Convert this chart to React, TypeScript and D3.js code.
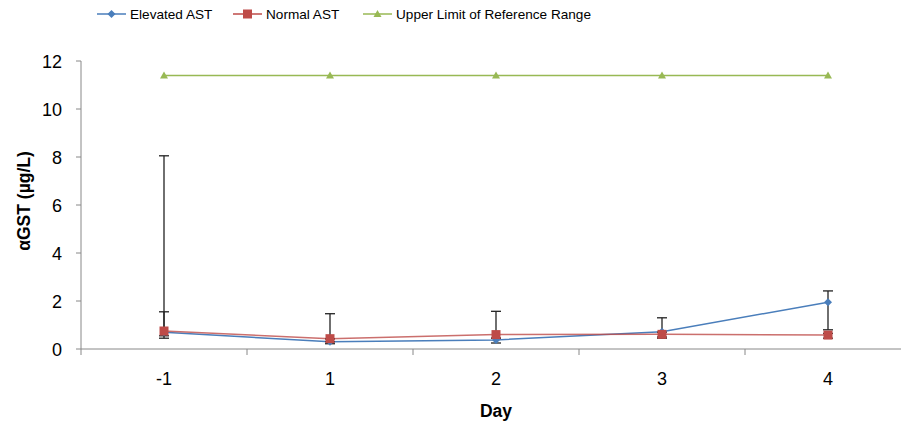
import React from "react";
import * as d3 from "d3";

const categories = ["-1", "1", "2", "3", "4"];
const elevated = [0.7, 0.3, 0.38, 0.72, 1.95];
const elevatedHi = [8.05, 0.42, 0.45, 1.3, 2.42];
const elevatedLo = [0.45, 0.22, 0.25, 0.5, 0.8];
const normal = [0.75, 0.43, 0.6, 0.61, 0.58];
const normalHi = [1.55, 1.47, 1.57, 0.7, 0.65];
const normalLo = [0.55, 0.3, 0.45, 0.45, 0.45];
const upperLimit = [11.4, 11.4, 11.4, 11.4, 11.4];
const yTicks = [0, 2, 4, 6, 8, 10, 12];

const W = 901, H = 423;
const left = 81, right = 911, top = 61, bottom = 349;
const FONT = "'Liberation Sans', Arial, sans-serif";

export default function App() {
  const x = d3.scaleBand<string>().domain(categories).range([left, right]);
  const cx = (i: number) => (x(categories[i]) as number) + x.bandwidth() / 2;
  const y = d3.scaleLinear().domain([0, 12]).range([bottom, top]);
  const line = d3.line<number>().x((_, i) => cx(i)).y((d) => y(d));
  const blue = "#4a7ebb", red = "#be4b48", green = "#98b954";
  const errColor = "#222";

  const errBars = (hi: number[], lo: number[], key: string) =>
    hi.map((h, i) => (
      <g key={key + i} stroke={errColor} strokeWidth={1.3}>
        <line x1={cx(i)} x2={cx(i)} y1={y(h)} y2={y(lo[i])} />
        <line x1={cx(i) - 5} x2={cx(i) + 5} y1={y(h)} y2={y(h)} />
        <line x1={cx(i) - 5} x2={cx(i) + 5} y1={y(lo[i])} y2={y(lo[i])} />
      </g>
    ));

  const diamond = (px: number, py: number, k: string, c: string) => (
    <path key={k} d={`M${px},${py - 4}L${px + 4},${py}L${px},${py + 4}L${px - 4},${py}Z`} fill={c} />
  );
  const square = (px: number, py: number, k: string, c: string) => (
    <rect key={k} x={px - 4.5} y={py - 4.5} width={9} height={9} fill={c} />
  );
  const tri = (px: number, py: number, k: string, c: string) => (
    <path key={k} d={`M${px},${py - 4}L${px + 4},${py + 3}L${px - 4},${py + 3}Z`} fill={c} />
  );

  const legend = [
    { label: "Elevated AST", color: blue, x0: 97, mk: diamond },
    { label: "Normal AST", color: red, x0: 233, mk: square },
    { label: "Upper Limit of Reference Range", color: green, x0: 363, mk: tri },
  ];

  return (
    <svg width={W} height={H} style={{ position: "absolute", left: 0, top: 0, background: "#fff" }}>
      {/* legend */}
      {legend.map((l, i) => (
        <g key={"lg" + i}>
          <line x1={l.x0} x2={l.x0 + 29} y1={14} y2={14} stroke={l.color} strokeWidth={1.5} />
          {l.mk(l.x0 + 14.5, 14, "lm" + i, l.color)}
          <text x={l.x0 + 33} y={19} fontFamily={FONT} fontSize={13.6} fill="#000">{l.label}</text>
        </g>
      ))}
      {/* axes */}
      <line x1={left} x2={left} y1={top} y2={bottom} stroke="#888" />
      <line x1={left} x2={W} y1={bottom} y2={bottom} stroke="#888" />
      {yTicks.map((t) => (
        <g key={"yt" + t}>
          <line x1={left - 5} x2={left} y1={y(t)} y2={y(t)} stroke="#888" />
          <text x={left - 19} y={y(t) + 6.5} textAnchor="end" fontFamily={FONT} fontSize={18} fill="#000">{t}</text>
        </g>
      ))}
      {categories.map((c, i) => (
        <g key={"xt" + c}>
          <line x1={(x(c) as number)} x2={(x(c) as number)} y1={bottom} y2={bottom + 6} stroke="#888" />
          <text x={cx(i)} y={385} textAnchor="middle" fontFamily={FONT} fontSize={18} fill="#000">{c}</text>
        </g>
      ))}
      <line x1={right} x2={right} y1={bottom} y2={bottom + 6} stroke="#888" />
      <text x={(left + right) / 2} y={417} textAnchor="middle" fontFamily={FONT} fontSize={17.5} fontWeight="bold">Day</text>
      <text transform={`translate(30,201) rotate(-90)`} textAnchor="middle" fontFamily={FONT} fontSize={17.5} fontWeight="bold">αGST (µg/L)</text>

      {/* lines */}
      <path d={line(upperLimit) as string} fill="none" stroke={green} strokeWidth={1.5} />
      <path d={line(elevated) as string} fill="none" stroke={blue} strokeWidth={1.5} />
      <path d={line(normal) as string} fill="none" stroke={red} strokeWidth={1.5} strokeOpacity={0.8} />
      {errBars(elevatedHi, elevatedLo, "eb")}
      {errBars(normalHi, normalLo, "nb")}
      {upperLimit.map((v, i) => tri(cx(i), y(v), "tm" + i, green))}
      {elevated.map((v, i) => diamond(cx(i), y(v), "dm" + i, blue))}
      {normal.map((v, i) => square(cx(i), y(v), "sm" + i, red))}
    </svg>
  );
}
